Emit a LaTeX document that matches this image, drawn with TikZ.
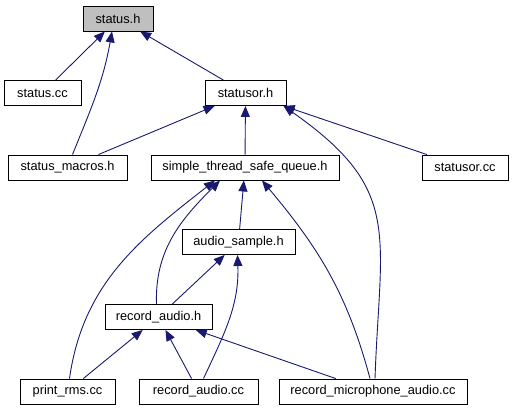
\documentclass[tikz,border=0pt]{standalone}
\usepackage{fontspec}
\setmainfont{Liberation Sans}
\usepackage{xcolor}
\usepackage{tikz}
\usetikzlibrary{arrows.meta,calc}
\definecolor{IncBlue}{HTML}{191970}
\definecolor{CurGray}{HTML}{BFBFBF}

\begin{document}
\begin{tikzpicture}[
  x=1pt, y=1pt,
  box/.style={draw,fill=white,line width=0.9pt,minimum height=25pt,inner sep=0pt,
    font=\fontsize{12.8}{15}\selectfont},
  arrow/.style={-{Triangle[length=11pt,width=9pt]},IncBlue,line width=0.9pt}
]
  \useasboundingbox (0,0) rectangle (513,-411);

  \node[box, fill=CurGray, minimum width=70pt] (sh) at (118,-18.5) {status.h};
  \node[box, minimum width=77pt] (sc) at (42.5,-93) {status.cc};
  \node[box, minimum width=81pt] (sor) at (245.5,-93) {statusor.h};
  \node[box, minimum width=119pt] (smac) at (67.5,-167.5) {status\_macros.h};
  \node[box, minimum width=188pt] (q) at (245,-167.5) {simple\_thread\_safe\_queue.h};
  \node[box, minimum width=86pt] (sorcc) at (465,-167.5) {statusor.cc};
  \node[box, minimum width=113pt] (as) at (238.5,-242) {audio\_sample.h};
  \node[box, minimum width=107pt] (ra) at (158.5,-317) {record\_audio.h};
  \node[box, minimum width=95pt] (prms) at (67.5,-391.5) {print\_rms.cc};
  \node[box, minimum width=119pt] (racc) at (198.5,-391.5) {record\_audio.cc};
  \node[box, minimum width=188pt] (rmic) at (373,-391.5) {record\_microphone\_audio.cc};

  % straight includes
  \draw[arrow] (sc) -- (sh);
  \draw[arrow] (sor) -- (sh);
  \draw[arrow] (smac) -- (sor);
  \draw[arrow] (q) -- (sor);
  \draw[arrow] (sorcc) -- (sor);
  \draw[arrow] (as) -- (q);
  \draw[arrow] (ra) -- (as);
  \draw[arrow] (prms) -- (ra);
  \draw[arrow] (racc) -- (ra);
  \draw[arrow] (rmic) -- (ra);

  % curved includes
  \draw[arrow] ([xshift=5pt]smac.north) to[out=68,in=-100] ([xshift=-6pt]sh.south);
  \draw[arrow] ([xshift=2pt]rmic.north) to[out=88,in=-35,looseness=1.3] ([xshift=-3pt]sor.south east);
  \draw[arrow] ([xshift=-3pt]rmic.north) to[out=105,in=-50] ([xshift=17pt]q.south);
  \draw[arrow] ([xshift=-2pt]ra.north) to[out=92,in=-135] ([xshift=-25pt]q.south);
  \draw[arrow] ([xshift=2pt]prms.north) to[out=82,in=-142] ([xshift=-30pt]q.south);
  \draw[arrow] ([xshift=5pt]racc.north) to[out=65,in=-88] ([xshift=-1pt]as.south);
\end{tikzpicture}
\end{document}
